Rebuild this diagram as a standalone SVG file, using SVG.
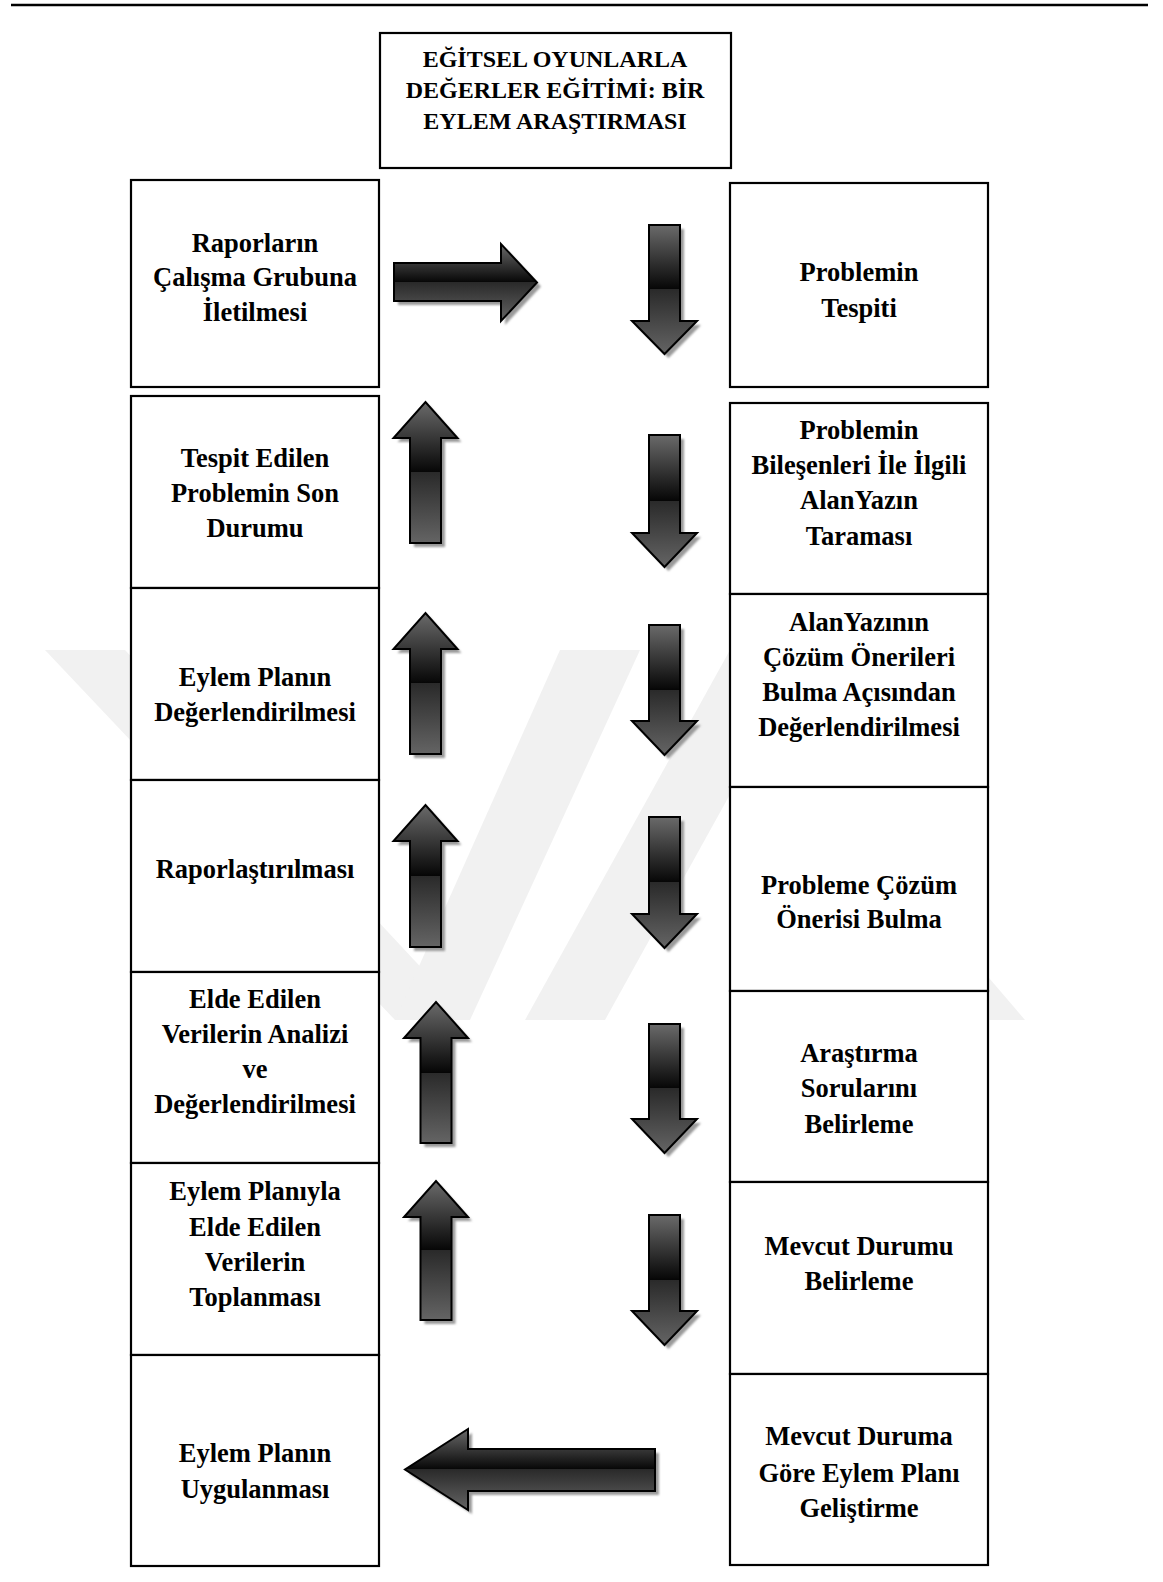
<svg xmlns="http://www.w3.org/2000/svg" xmlns:xlink="http://www.w3.org/1999/xlink" width="1163" height="1582" viewBox="0 0 1163 1582">
  <style>
    .box { fill: #ffffff; stroke: #000000; stroke-width: 2.2; }
    .lbl { font-family: "Liberation Serif", "Times New Roman", serif; font-weight: bold; font-size: 26.5px; text-anchor: middle; fill: #000000; }
    .ttl { font-family: "Liberation Serif", "Times New Roman", serif; font-weight: bold; font-size: 24px; text-anchor: middle; fill: #000000; }
    .arrow { fill: url(#shade); stroke: #000000; stroke-width: 2; stroke-linejoin: miter; }
    .shadow { fill: #9a9a9a; filter: url(#soft); }
    .wm { fill: #f1f1f1; }
  </style>
  <defs>
    <linearGradient id="shade" x1="0" y1="0" x2="0" y2="1">
      <stop offset="0" stop-color="#6a6a6a"/>
      <stop offset="0.48" stop-color="#0a0a0a"/>
      <stop offset="0.5" stop-color="#050505"/>
      <stop offset="0.5" stop-color="#2a2a2a"/>
      <stop offset="1" stop-color="#646464"/>
    </linearGradient>
    <filter id="soft" x="-10%" y="-10%" width="120%" height="120%">
      <feGaussianBlur stdDeviation="0.8"/>
    </filter>
    <!-- block arrows -->
    <path id="a-right" d="M394,263 H501 V244 L537,282.5 L501,321 V301 H394 Z"/>
    <path id="a-left" d="M655,1449 H468 V1429 L405,1469.5 L468,1510 V1491 H655 Z"/>
    <path id="d1" d="M649,225 H680 V321 H697 L664.5,354 L632,321 H649 Z"/>
    <path id="d2" d="M649,435 H680 V533 H697 L664.5,567 L632,533 H649 Z"/>
    <path id="d3" d="M649,625 H680 V721 H697 L664.5,755 L632,721 H649 Z"/>
    <path id="d4" d="M649,817 H680 V914 H697 L664.5,948 L632,914 H649 Z"/>
    <path id="d5" d="M649,1024 H680 V1119 H697 L664.5,1153 L632,1119 H649 Z"/>
    <path id="d6" d="M649,1215 H680 V1311 H697 L664.5,1345 L632,1311 H649 Z"/>
    <path id="u1" d="M410,543 H441 V438 H457.5 L425.5,402 L393.5,438 H410 Z"/>
    <path id="u2" d="M410,754 H441 V649 H457.5 L425.5,613 L393.5,649 H410 Z"/>
    <path id="u3" d="M410,947 H441 V841 H457.5 L425.5,805 L393.5,841 H410 Z"/>
    <path id="u4" d="M420.5,1143 H451.5 V1038 H468 L436,1002 L404,1038 H420.5 Z"/>
    <path id="u5" d="M420.5,1320 H451.5 V1217 H468 L436,1181 L404,1217 H420.5 Z"/>
  </defs>

  <rect width="1163" height="1582" fill="#ffffff"/>

  <!-- faint background emblem -->
  <g id="emblem">
    <polygon class="wm" points="45,650 125,650 470,1020 395,1020"/>
    <polygon class="wm" points="395,1020 470,1020 640,650 560,650"/>
    <polygon class="wm" points="525,1020 605,1020 810,650 730,650"/>
    <polygon class="wm" points="860,880 905,880 1025,1020 980,1020"/>
  </g>

  <!-- page rule -->
  <line x1="11" y1="5" x2="1148" y2="5" stroke="#000000" stroke-width="2.5"/>

  <g id="title">
    <rect class="box" x="380" y="33" width="351" height="135"/>
    <text class="ttl" x="555" y="67">EĞİTSEL OYUNLARLA</text>
    <text class="ttl" x="555" y="98">DEĞERLER EĞİTİMİ: BİR</text>
    <text class="ttl" x="555" y="129">EYLEM ARAŞTIRMASI</text>
  </g>

  <!-- left column -->
  <g id="raporlarin-iletilmesi">
    <rect class="box" x="131" y="180" width="248" height="207"/>
    <text class="lbl" x="255" y="252">Raporların</text>
    <text class="lbl" x="255" y="286">Çalışma Grubuna</text>
    <text class="lbl" x="255" y="321">İletilmesi</text>
  </g>
  <g id="son-durum">
    <rect class="box" x="131" y="396" width="248" height="192"/>
    <text class="lbl" x="255" y="467">Tespit Edilen</text>
    <text class="lbl" x="255" y="502">Problemin Son</text>
    <text class="lbl" x="255" y="537">Durumu</text>
  </g>
  <g id="plan-degerlendirme">
    <rect class="box" x="131" y="588" width="248" height="192"/>
    <text class="lbl" x="255" y="686">Eylem Planın</text>
    <text class="lbl" x="255" y="721">Değerlendirilmesi</text>
  </g>
  <g id="raporlastirma">
    <rect class="box" x="131" y="780" width="248" height="192"/>
    <text class="lbl" x="255" y="878">Raporlaştırılması</text>
  </g>
  <g id="veri-analizi">
    <rect class="box" x="131" y="972" width="248" height="191"/>
    <text class="lbl" x="255" y="1008">Elde Edilen</text>
    <text class="lbl" x="255" y="1043">Verilerin Analizi</text>
    <text class="lbl" x="255" y="1078">ve</text>
    <text class="lbl" x="255" y="1113">Değerlendirilmesi</text>
  </g>
  <g id="veri-toplama">
    <rect class="box" x="131" y="1163" width="248" height="192"/>
    <text class="lbl" x="255" y="1200">Eylem Planıyla</text>
    <text class="lbl" x="255" y="1236">Elde Edilen</text>
    <text class="lbl" x="255" y="1271">Verilerin</text>
    <text class="lbl" x="255" y="1306">Toplanması</text>
  </g>
  <g id="plan-uygulama">
    <rect class="box" x="131" y="1355" width="248" height="211"/>
    <text class="lbl" x="255" y="1462">Eylem Planın</text>
    <text class="lbl" x="255" y="1498">Uygulanması</text>
  </g>

  <!-- right column -->
  <g id="problem-tespiti">
    <rect class="box" x="730" y="183" width="258" height="204"/>
    <text class="lbl" x="859" y="281">Problemin</text>
    <text class="lbl" x="859" y="317">Tespiti</text>
  </g>
  <g id="alanyazin-taramasi">
    <rect class="box" x="730" y="403" width="258" height="191"/>
    <text class="lbl" x="859" y="439">Problemin</text>
    <text class="lbl" x="859" y="474">Bileşenleri İle İlgili</text>
    <text class="lbl" x="859" y="509">AlanYazın</text>
    <text class="lbl" x="859" y="545">Taraması</text>
  </g>
  <g id="alanyazin-degerlendirme">
    <rect class="box" x="730" y="594" width="258" height="193"/>
    <text class="lbl" x="859" y="631">AlanYazının</text>
    <text class="lbl" x="859" y="666">Çözüm Önerileri</text>
    <text class="lbl" x="859" y="701">Bulma Açısından</text>
    <text class="lbl" x="859" y="736">Değerlendirilmesi</text>
  </g>
  <g id="cozum-onerisi">
    <rect class="box" x="730" y="787" width="258" height="204"/>
    <text class="lbl" x="859" y="894">Probleme Çözüm</text>
    <text class="lbl" x="859" y="928">Önerisi Bulma</text>
  </g>
  <g id="arastirma-sorulari">
    <rect class="box" x="730" y="991" width="258" height="191"/>
    <text class="lbl" x="859" y="1062">Araştırma</text>
    <text class="lbl" x="859" y="1097">Sorularını</text>
    <text class="lbl" x="859" y="1133">Belirleme</text>
  </g>
  <g id="mevcut-durum">
    <rect class="box" x="730" y="1182" width="258" height="192"/>
    <text class="lbl" x="859" y="1255">Mevcut Durumu</text>
    <text class="lbl" x="859" y="1290">Belirleme</text>
  </g>
  <g id="eylem-plani">
    <rect class="box" x="730" y="1374" width="258" height="191"/>
    <text class="lbl" x="859" y="1445">Mevcut Duruma</text>
    <text class="lbl" x="859" y="1482">Göre Eylem Planı</text>
    <text class="lbl" x="859" y="1517">Geliştirme</text>
  </g>

  <!-- flow arrows: shadow copy first, then the shaded arrow -->
  <g id="connectors">
    <g transform="translate(4,4)">
      <use class="shadow" xlink:href="#a-right"/>
      <use class="shadow" xlink:href="#a-left"/>
      <use class="shadow" xlink:href="#d1"/>
      <use class="shadow" xlink:href="#d2"/>
      <use class="shadow" xlink:href="#d3"/>
      <use class="shadow" xlink:href="#d4"/>
      <use class="shadow" xlink:href="#d5"/>
      <use class="shadow" xlink:href="#d6"/>
      <use class="shadow" xlink:href="#u1"/>
      <use class="shadow" xlink:href="#u2"/>
      <use class="shadow" xlink:href="#u3"/>
      <use class="shadow" xlink:href="#u4"/>
      <use class="shadow" xlink:href="#u5"/>
    </g>
    <use class="arrow" xlink:href="#a-right"/>
    <use class="arrow" xlink:href="#a-left"/>
    <use class="arrow" xlink:href="#d1"/>
    <use class="arrow" xlink:href="#d2"/>
    <use class="arrow" xlink:href="#d3"/>
    <use class="arrow" xlink:href="#d4"/>
    <use class="arrow" xlink:href="#d5"/>
    <use class="arrow" xlink:href="#d6"/>
    <use class="arrow" xlink:href="#u1"/>
    <use class="arrow" xlink:href="#u2"/>
    <use class="arrow" xlink:href="#u3"/>
    <use class="arrow" xlink:href="#u4"/>
    <use class="arrow" xlink:href="#u5"/>
  </g>
</svg>
